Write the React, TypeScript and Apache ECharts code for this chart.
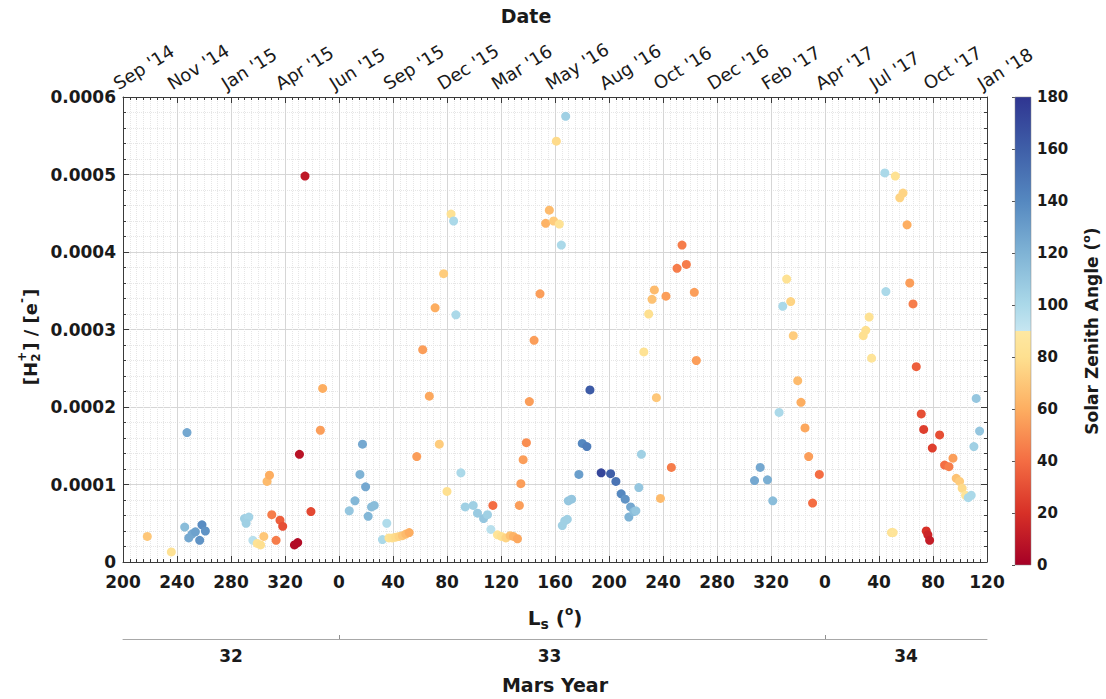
import React, { useEffect, useRef } from 'react';
import * as echarts from 'echarts';

// Continuous solar longitude: Ls + 360 * (Mars Year - 32)
const lsContinuous = [
  218.0, 235.8, 247.4, 245.7, 248.7, 251.1, 253.6, 256.8, 258.5, 261.0,
  290.0, 293.2, 291.2, 296.2, 299.4, 301.9, 304.3, 306.7, 308.5, 310.2,
  313.4, 316.3, 318.3, 327.0, 329.4, 330.7, 334.8, 339.2, 346.2, 347.9,
  367.6, 371.8, 375.5, 377.4, 379.7, 381.6, 384.1, 386.1, 392.2, 395.4,
  397.0, 399.5, 402.0, 404.5, 407.0, 409.5, 412.0,
  417.6, 422.0, 426.9, 431.2, 434.3, 437.5, 440.0, 443.0, 444.9, 446.6,
  450.3, 453.5, 459.4, 462.6, 467.1, 470.0, 472.5, 474.0,
  477.4, 480.3, 483.6, 486.8, 489.2, 492.2,
  493.6, 494.7, 496.4, 498.8, 501.0, 504.5, 508.9, 513.1, 515.8, 519.0,
  521.0, 523.2, 524.7, 527.9, 525.4, 527.2, 529.1, 529.9, 532.3, 537.7,
  540.2, 543.6, 545.9, 554.2, 561.2, 565.1, 569.0, 572.0, 576.0, 574.7,
  578.4, 579.9, 582.1, 584.0, 585.8, 589.4, 591.9, 593.6, 595.1, 598.1,
  602.2, 606.2, 610.4, 614.1, 617.3, 623.2, 624.7,
  667.8, 672.0, 677.4, 681.3, 686.0, 688.7, 691.6, 694.6, 696.5, 699.8,
  702.2, 705.2, 707.9, 710.8, 715.8, 748.3, 750.2, 752.7, 754.5, 764.3,
  765.1, 769.2, 770.5, 772.1, 775.4, 777.8, 780.8, 782.8, 785.2, 787.6,
  791.3, 793.1, 795.0, 796.2, 797.5, 799.5, 804.9, 808.6, 811.8, 814.8,
  817.2, 819.7, 821.6, 824.1, 826.1, 828.3, 830.3, 832.0, 834.5,
];

// [H2+]/[e-] in units of 1e-4
const h2RatioE4 = [
  0.33, 0.13, 1.67, 0.45, 0.31, 0.36, 0.39, 0.28, 0.48, 0.40,
  0.56, 0.58, 0.50, 0.28, 0.24, 0.22, 0.33, 1.04, 1.12, 0.61,
  0.28, 0.54, 0.46, 0.22, 0.25, 1.39, 4.98, 0.65, 1.70, 2.24,
  0.66, 0.79, 1.13, 1.52, 0.97, 0.59, 0.71, 0.73, 0.29, 0.50,
  0.31, 0.31, 0.32, 0.33, 0.34, 0.36, 0.38,
  1.36, 2.74, 2.14, 3.28, 1.52, 3.72, 0.91, 4.49, 4.40, 3.19,
  1.15, 0.71, 0.73, 0.63, 0.56, 0.61, 0.42, 0.73,
  0.35, 0.33, 0.31, 0.34, 0.33, 0.30,
  0.73, 1.01, 1.32, 1.54, 2.07, 2.86, 3.46, 4.37, 4.54, 4.40,
  5.43, 4.36, 4.09, 5.75, 0.47, 0.53, 0.55, 0.79, 0.81, 1.13,
  1.53, 1.49, 2.22, 1.15, 1.14, 1.04, 0.88, 0.81, 0.71, 0.58,
  0.65, 0.66, 0.96, 1.39, 2.71, 3.20, 3.39, 3.51, 2.12, 0.82,
  3.43, 1.22, 3.79, 4.09, 3.84, 3.48, 2.60,
  1.05, 1.22, 1.06, 0.79, 1.93, 3.30, 3.65, 3.36, 2.92, 2.34,
  2.06, 1.73, 1.36, 0.76, 1.13, 2.92, 2.99, 3.16, 2.63, 5.02,
  3.49, 0.38, 0.38, 4.98, 4.70, 4.76, 4.35, 3.60, 3.33, 2.52,
  1.91, 1.71, 0.40, 0.35, 0.28, 1.47, 1.64, 1.25, 1.23, 1.34,
  1.08, 1.04, 0.95, 0.86, 0.83, 0.86, 1.49, 2.11, 1.69,
];

// Solar zenith angle (deg)
const sza = [
  70, 82, 125, 115, 125, 125, 128, 135, 138, 135,
  105, 103, 105, 95, 83, 80, 70, 65, 60, 45,
  45, 35, 30, 5, 5, 8, 10, 28, 55, 60,
  110, 118, 120, 125, 125, 118, 115, 115, 100, 98,
  82, 80, 78, 75, 70, 65, 60,
  55, 55, 58, 60, 72, 72, 80, 82, 100, 100,
  100, 105, 105, 108, 110, 105, 95, 40,
  85, 80, 75, 68, 62, 58,
  55, 55, 55, 50, 55, 55, 55, 62, 65, 72,
  78, 82, 100, 105, 105, 105, 105, 110, 110, 130,
  140, 145, 162, 172, 160, 150, 140, 135, 125, 120,
  115, 110, 110, 105, 82, 80, 68, 65, 70, 65,
  55, 45, 45, 45, 45, 55, 55,
  125, 125, 122, 115, 100, 100, 82, 75, 72, 65,
  60, 58, 55, 40, 40, 80, 80, 82, 85, 100,
  100, 82, 85, 82, 75, 75, 60, 55, 45, 35,
  30, 25, 20, 15, 12, 25, 30, 40, 45, 55,
  68, 72, 78, 85, 100, 100, 105, 110, 110,
];

const dateLabels = [
  "Sep '14", "Nov '14", "Jan '15", "Apr '15", "Jun '15", "Sep '15", "Dec '15", "Mar '16",
  "May '16", "Aug '16", "Oct '16", "Dec '16", "Feb '17", "Apr '17", "Jul '17", "Oct '17", "Jan '18",
];
const marsYears = [32, 33, 34];
const marsYearLabelLs = [280, 516, 780];
const marsYearBoundaries = [360, 720];

const lowStops: [number, string][] = [
  [0, '#a50026'], [20, '#d73027'], [40, '#f46d43'], [60, '#fdae61'], [80, '#fee090'], [90, '#fee8a2'],
];
const highStops: [number, string][] = [
  [90, '#c6e6f1'], [100, '#abd9e9'], [120, '#7fb3d5'], [140, '#5588c0'], [160, '#3f5fa8'], [180, '#2f3591'],
];

function hexToRgb(h: string) {
  return [parseInt(h.slice(1, 3), 16), parseInt(h.slice(3, 5), 16), parseInt(h.slice(5, 7), 16)];
}
function interp(stops: [number, string][], d: number) {
  for (let i = 0; i < stops.length - 1; i++) {
    const [a, ca] = stops[i];
    const [b, cb] = stops[i + 1];
    if (d >= a && d <= b) {
      const t = (d - a) / (b - a);
      const A = hexToRgb(ca), B = hexToRgb(cb);
      const c = A.map((v, k) => Math.round(v + (B[k] - v) * t));
      return `rgb(${c[0]},${c[1]},${c[2]})`;
    }
  }
  return stops[stops.length - 1][1];
}
function szaColor(d: number) {
  return d <= 90 ? interp(lowStops, d) : interp(highStops, d);
}

const FONT = '"DejaVu Sans"';

function measure(text: string, size: number, weight = 'bold') {
  const c = document.createElement('canvas').getContext('2d')!;
  c.font = `${weight} ${size}px ${FONT}`;
  return c.measureText(text).width;
}

export default function App() {
  const ref = useRef<HTMLDivElement>(null);
  useEffect(() => {
    document.body.style.margin = '0';
    const chart = echarts.init(ref.current!, null, { renderer: 'svg' });

    const G = { left: 123, top: 97, width: 864, height: 468 };
    const axisColor = '#3a3a3a';
    const textColor = '#1a1a1a';

    const colors: string[] = [];
    for (let d = 0; d <= 180; d++) colors.push(szaColor(d));

    const gradStops: { offset: number; color: string }[] = [];
    lowStops.forEach(([d, c]) => gradStops.push({ offset: d / 180, color: c }));
    highStops.forEach(([d, c]) => gradStops.push({ offset: d / 180, color: c }));

    // y-axis name: [H2+] / [e-] with stacked sub/superscript
    const mainSize = 18, smallSize = 12;
    const parts: any[] = [];
    let cx = 0;
    const addMain = (t: string) => {
      parts.push({ t, size: mainSize, x: cx, y: 0 });
      cx += measure(t, mainSize);
    };
    addMain('[H');
    const w2 = measure('2', smallSize), wp = measure('+', smallSize);
    parts.push({ t: '2', size: smallSize, x: cx, y: 6 });
    parts.push({ t: '+', size: smallSize, x: cx, y: -8 });
    cx += Math.max(w2, wp) + 1;
    addMain('] / [e');
    parts.push({ t: '-', size: smallSize, x: cx, y: -8 });
    cx += measure('-', smallSize) + 1;
    addMain(']');
    const total = cx;
    const yNameGroup = {
      type: 'group',
      x: 30,
      y: 337,
      rotation: Math.PI / 2,
      children: parts.map((p) => ({
        type: 'text',
        x: p.x - total / 2,
        y: p.y,
        style: {
          text: p.t,
          fontSize: p.size,
          fontWeight: 'bold',
          fontFamily: FONT,
          fill: textColor,
          textAlign: 'left',
          textVerticalAlign: 'middle',
          align: 'left',
          verticalAlign: 'middle',
        },
      })),
    };

    const lsAxisCommon = {
      type: 'value',
      min: 200,
      max: 840,
      interval: 40,
    };

    const option: any = {
      animation: false,
      backgroundColor: '#ffffff',
      textStyle: { fontFamily: FONT },
      grid: [
        { ...G, containLabel: false },
        { left: 1015, top: G.top, width: 16, height: G.height },
        { left: G.left - 8, top: G.top, width: G.width, height: G.height },
      ],
      xAxis: [
        {
          ...lsAxisCommon,
          gridIndex: 0,
          position: 'bottom',
          axisLine: { show: true, onZero: false, lineStyle: { color: axisColor, width: 1 } },
          axisTick: { show: true, inside: true, length: 6, lineStyle: { color: axisColor } },
          minorTick: { show: true, splitNumber: 8, length: 3, lineStyle: { color: axisColor } },
          splitLine: { show: true, lineStyle: { color: '#d6d6d6', width: 1 } },
          minorSplitLine: { show: true, lineStyle: { color: '#e6e6e6', width: 1, type: 'dotted' } },
          axisLabel: {
            formatter: (v: number) => String(v % 360),
            fontWeight: 'bold',
            fontSize: 17,
            lineHeight: 15,
            color: textColor,
            margin: 12,
          },
          name: 'L{sub|s} ({sup|o})',
          nameLocation: 'middle',
          nameGap: 43,
          nameTextStyle: {
            fontSize: 20,
            fontWeight: 'bold',
            color: textColor,
            lineHeight: 26,
            rich: {
              sub: { fontSize: 14, fontWeight: 'bold', verticalAlign: 'bottom', color: textColor, lineHeight: 14 },
              sup: { fontSize: 12, fontWeight: 'bold', verticalAlign: 'top', color: textColor, lineHeight: 12 },
            },
          },
        },
        {
          ...lsAxisCommon,
          gridIndex: 0,
          position: 'top',
          axisLine: { show: true, onZero: false, lineStyle: { color: axisColor, width: 1 } },
          axisTick: { show: true, inside: true, length: 6, lineStyle: { color: axisColor } },
          minorTick: { show: true, splitNumber: 8, length: 3, lineStyle: { color: axisColor } },
          splitLine: { show: false },
          axisLabel: { show: false },
        },
        {
          ...lsAxisCommon,
          gridIndex: 0,
          position: 'bottom',
          offset: 77,
          axisLine: { show: true, onZero: false, lineStyle: { color: '#a8a8a8', width: 1 } },
          axisTick: {
            show: true,
            inside: true,
            length: 4,
            customValues: marsYearBoundaries,
            lineStyle: { color: '#909090' },
          },
          splitLine: { show: false },
          axisLabel: {
            customValues: marsYearLabelLs,
            formatter: (v: number) => String(marsYears[marsYearLabelLs.indexOf(v)]),
            fontWeight: 'bold',
            fontSize: 17,
            color: textColor,
            margin: 8,
          },
          name: 'Mars Year',
          nameLocation: 'middle',
          nameGap: 36,
          nameTextStyle: { fontSize: 19, fontWeight: 'bold', color: textColor },
        },
        { type: 'value', gridIndex: 1, min: 0, max: 1, show: false },
        {
          ...lsAxisCommon,
          gridIndex: 2,
          position: 'top',
          axisLine: { show: false },
          axisTick: { show: false },
          splitLine: { show: false },
          axisLabel: {
            formatter: (v: number) => dateLabels[Math.round((v - 200) / 40)],
            rotate: 32,
            fontSize: 18,
            color: textColor,
            margin: 12,
          },
        },
      ],
      yAxis: [
        {
          type: 'value',
          gridIndex: 0,
          position: 'left',
          min: 0,
          max: 0.0006,
          interval: 0.0001,
          axisLine: { show: true, onZero: false, lineStyle: { color: axisColor, width: 1 } },
          axisTick: { show: true, inside: true, length: 6, lineStyle: { color: axisColor } },
          minorTick: { show: true, splitNumber: 5, length: 3, lineStyle: { color: axisColor } },
          splitLine: { show: true, lineStyle: { color: '#d6d6d6', width: 1 } },
          minorSplitLine: { show: true, lineStyle: { color: '#e6e6e6', width: 1, type: 'dotted' } },
          axisLabel: {
            formatter: (v: number) => (v === 0 ? '0' : v.toFixed(4)),
            fontWeight: 'bold',
            fontSize: 17,
            lineHeight: 14,
            color: textColor,
            margin: 7,
          },
        },
        {
          type: 'value',
          gridIndex: 0,
          position: 'right',
          min: 0,
          max: 0.0006,
          interval: 0.0001,
          axisLine: { show: true, onZero: false, lineStyle: { color: axisColor, width: 1 } },
          axisTick: { show: true, inside: true, length: 6, lineStyle: { color: axisColor } },
          minorTick: { show: true, splitNumber: 5, length: 3, lineStyle: { color: axisColor } },
          splitLine: { show: false },
          axisLabel: { show: false },
        },
        {
          type: 'value',
          gridIndex: 1,
          position: 'right',
          min: 0,
          max: 180,
          interval: 20,
          axisLine: { show: false },
          axisTick: { show: true, inside: true, length: 3, lineStyle: { color: '#555' } },
          splitLine: { show: false },
          axisLabel: { fontWeight: 'bold', fontSize: 15, color: textColor, margin: 6 },
          name: 'Solar Zenith Angle ({sup|o})',
          nameLocation: 'middle',
          nameGap: 50,
          nameTextStyle: {
            fontSize: 17,
            fontWeight: 'bold',
            color: textColor,
            lineHeight: 22,
            rich: {
              sup: { fontSize: 11, fontWeight: 'bold', verticalAlign: 'top', color: textColor, lineHeight: 11 },
            },
          },
        },
        { type: 'value', gridIndex: 2, show: false, min: 0, max: 1 },
      ],
      visualMap: {
        type: 'continuous',
        show: false,
        min: 0,
        max: 180,
        dimension: 2,
        seriesIndex: 0,
        inRange: { color: colors },
      },
      series: [
        {
          type: 'scatter',
          xAxisIndex: 0,
          yAxisIndex: 0,
          symbol: 'circle',
          symbolSize: 9,
          itemStyle: { opacity: 1 },
          data: lsContinuous.map((x, i) => [x, h2RatioE4[i] * 1e-4, sza[i]]),
        },
      ],
      graphic: [
        {
          type: 'rect',
          shape: { x: 1015, y: G.top, width: 16, height: G.height },
          style: {
            fill: new echarts.graphic.LinearGradient(0, 1, 0, 0, gradStops),
            stroke: '#8a8a8a',
            lineWidth: 0.5,
          },
          z: 10,
        },
        {
          type: 'text',
          x: 526,
          y: 16,
          style: {
            text: 'Date',
            fontSize: 19,
            fontWeight: 'bold',
            fontFamily: FONT,
            fill: textColor,
            textAlign: 'center',
            textVerticalAlign: 'middle',
            align: 'center',
            verticalAlign: 'middle',
          },
        },
        yNameGroup,
      ],
    };

    chart.setOption(option);
    return () => chart.dispose();
  }, []);

  return <div ref={ref} style={{ width: 1106, height: 699 }} />;
}
